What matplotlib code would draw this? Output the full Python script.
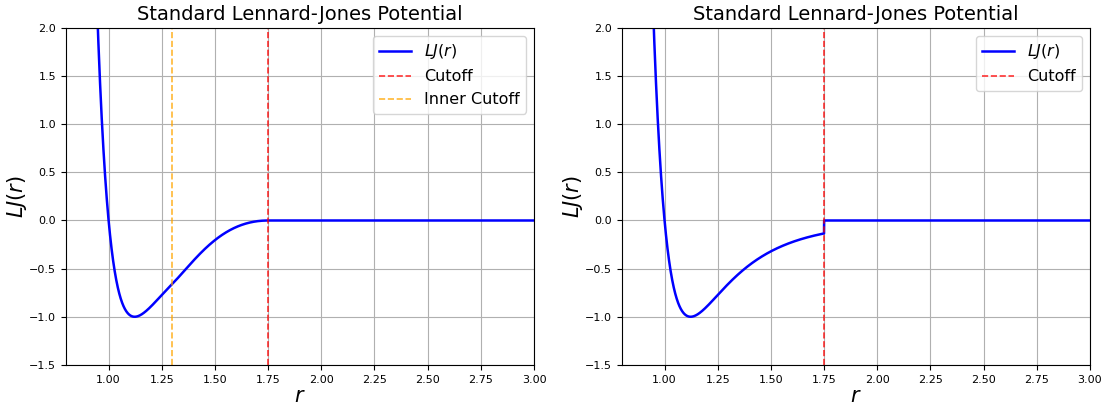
import numpy as np
import matplotlib
matplotlib.use('Agg')
from matplotlib import pyplot as plt

# potential parameters
epsilon = 1.0
sigma = 1.0
r_cut = 1.75
r_inner = 1.3
r_min, r_max = 0.9, 3.0

x_lim = [0.8, 3.0]
y_lim = [-1.5, 2.0]
x_ticks = [1.00, 1.25, 1.50, 1.75, 2.00, 2.25, 2.50, 2.75, 3.00]
y_ticks = [-1.5, -1.0, -0.5, 0.0, 0.5, 1.0, 1.5, 2.0]
title = 'Standard Lennard-Jones Potential'


def lj(r):
    sr6 = (sigma / r) ** 6
    return 4 * epsilon * (sr6 ** 2 - sr6)


def switch(r):
    """smooth switching between inner cutoff and cutoff"""
    rc2, ri2, r2 = r_cut ** 2, r_inner ** 2, r ** 2
    s = (rc2 - r2) ** 2 * (rc2 + 2 * r2 - 3 * ri2) / (rc2 - ri2) ** 3
    s = np.where(r < r_inner, 1.0, s)
    s = np.where(r >= r_cut, 0.0, s)
    return s


r = np.linspace(r_min, r_max, 4000)
lj_smooth = lj(r) * switch(r)
lj_trunc = np.where(r < r_cut, lj(r), 0.0)

fig, axes = plt.subplots(1, 2, figsize=(11.01, 4.05), dpi=100)
fig.subplots_adjust(left=0.06, right=0.99, bottom=0.099, top=0.931, wspace=0.188)

for ax, y, inner in [(axes[0], lj_smooth, True), (axes[1], lj_trunc, False)]:
    ax.plot(r, y, color='blue', lw=1.8, label=r'$LJ(r)$')
    ax.axvline(r_cut, color='red', ls='--', lw=1.2, alpha=0.8, label='Cutoff')
    if inner:
        ax.axvline(r_inner, color='orange', ls='--', lw=1.2, alpha=0.8, label='Inner Cutoff')
    ax.set_xlim(x_lim)
    ax.set_ylim(y_lim)
    ax.set_xticks(x_ticks)
    ax.set_yticks(y_ticks)
    ax.tick_params(labelsize=8)
    ax.grid(True)
    ax.set_title(title, fontsize=14)
    ax.set_xlabel(r'$r$', fontsize=15, labelpad=1)
    ax.set_ylabel(r'$LJ(r)$', fontsize=15, labelpad=0)
    ax.legend(fontsize=11.5, loc='upper right')

plt.savefig('out.png', dpi=100)
